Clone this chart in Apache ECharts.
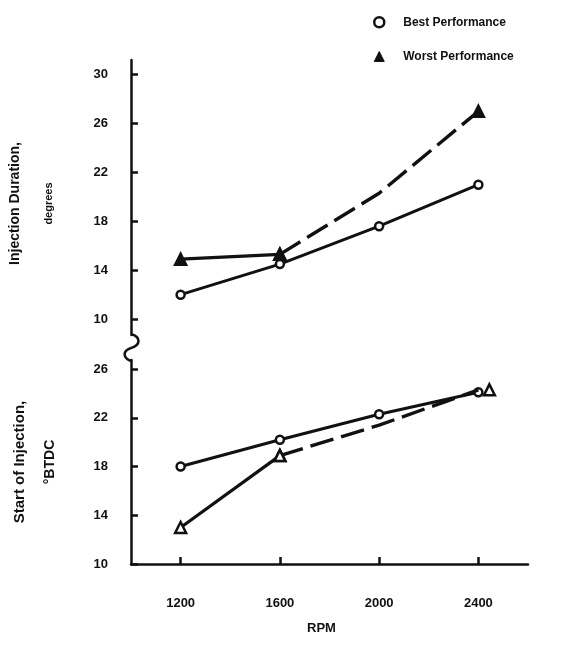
<!DOCTYPE html>
<html><head><meta charset="utf-8">
<script src="https://cdn.jsdelivr.net/npm/echarts@6/dist/echarts.min.js"></script>
<style>html,body{margin:0;padding:0;background:#fff}#c{width:577px;height:646px}</style>
</head><body><div id="c"></div>
<script>
// ---- data ----
const rpm = [1200, 1600, 2000, 2400];
const rpmTicks = [1200, 1600, 2000, 2400];
const durationTicks = [10, 14, 18, 22, 26, 30];
const startTicks = [10, 14, 18, 22, 26];
const durationBest = [12.0, 14.5, 17.6, 21.0];
const durationWorst = [14.9, 15.3, 20.3, 27.0];
const startBest = [18.0, 20.2, 22.3, 24.1];
const startWorst = [13.0, 18.9, 21.4, 24.3];

const INK = '#111';
const FONT = '"Liberation Sans", Arial, sans-serif';

function pts(ys, from, to) {
  return rpm.slice(from, to).map((x, i) => ({ value: [x, ys[from + i]] }));
}
function hideAt(data, xval) {
  data.forEach(d => { if (d.value[0] === xval) d.symbol = 'none'; });
  return data;
}

const circleStyle = { color: '#fff', borderColor: INK, borderWidth: 2.5 };

function bestSeries(grid, ys) {
  return {
    name: 'Best Performance', type: 'line', xAxisIndex: grid, yAxisIndex: grid,
    data: pts(ys, 0, 4), symbol: 'circle', symbolSize: 8, showAllSymbol: true,
    lineStyle: { color: INK, width: 3 }, itemStyle: circleStyle, z: 3, animation: false
  };
}
function worstSeries(grid, ys, offsetLast, filled) {
  const triStyle = { color: filled ? INK : '#fff', borderColor: INK, borderWidth: 2.5 };
  const solid = pts(ys, 0, 2);
  const dashed = hideAt(pts(ys, 1, 4), 2000);
  if (offsetLast) dashed[dashed.length - 1].symbolOffset = [11, 0];
  return [
    { name: 'Worst Performance', type: 'line', xAxisIndex: grid, yAxisIndex: grid,
      data: solid, symbol: 'triangle', symbolSize: 11,
      lineStyle: { color: INK, width: 3.2 }, itemStyle: triStyle, z: 4, animation: false },
    { name: 'Worst Performance', type: 'line', xAxisIndex: grid, yAxisIndex: grid,
      data: dashed, symbol: 'triangle', symbolSize: 11,
      lineStyle: { color: INK, width: 3.4, type: [24, 8] }, itemStyle: triStyle, z: 4, animation: false }
  ];
}

const axisLine = { show: true, onZero: false, lineStyle: { color: INK, width: 2.5 } };
const labelStyle = { color: INK, fontFamily: FONT, fontWeight: 'bold', fontSize: 13, formatter: v => String(v) };

const option = {
  backgroundColor: '#fff',
  animation: false,
  legend: {
    orient: 'vertical', left: 368, top: 11, itemGap: 22, itemWidth: 10, itemHeight: 10,
    selectedMode: false,
    textStyle: { color: INK, fontFamily: FONT, fontWeight: 'bold', fontSize: 12, padding: [0, 0, 0, 14] },
    data: [
      { name: 'Best Performance', icon: 'circle', itemStyle: { color: '#fff', borderColor: INK, borderWidth: 2.5 } },
      { name: 'Worst Performance', icon: 'triangle', itemStyle: { color: INK, borderColor: INK, borderWidth: 1 } }
    ]
  },
  grid: [
    { left: 131, right: 49, top: 60, height: 275 },
    { left: 131, right: 49, top: 360, height: 204 }
  ],
  xAxis: [
    { type: 'value', gridIndex: 0, min: 1000, max: 2600, show: false },
    { type: 'value', gridIndex: 1, min: 1000, max: 2600,
      axisLine: axisLine, splitLine: { show: false },
      axisTick: { show: true, inside: true, length: 7, customValues: rpmTicks, lineStyle: { color: INK, width: 2.5 } },
      axisLabel: Object.assign({ customValues: rpmTicks, margin: 33 }, labelStyle),
      name: 'RPM', nameLocation: 'middle', nameGap: 58,
      nameTextStyle: { color: INK, fontFamily: FONT, fontWeight: 'bold', fontSize: 13, padding: [0, 16, 0, 0] } }
  ],
  yAxis: [
    { type: 'value', gridIndex: 0, min: 8.7, max: 31.2,
      axisLine: axisLine, splitLine: { show: false },
      axisTick: { show: true, inside: true, length: 7, customValues: durationTicks, lineStyle: { color: INK, width: 2.5 } },
      axisLabel: Object.assign({ customValues: durationTicks, margin: 23 }, labelStyle),
      name: '{a|Injection Duration,}\n{b|degrees}', nameLocation: 'middle', nameGap: 66,
      nameTextStyle: { color: INK, fontFamily: FONT, padding: [0, 12, 0, 0], rich: {
        a: { fontSize: 14, lineHeight: 33, color: INK, fontFamily: FONT, fontWeight: 'bold' },
        b: { fontSize: 11, lineHeight: 33, color: INK, fontFamily: FONT, fontWeight: 'bold' } } } },
    { type: 'value', gridIndex: 1, min: 10, max: 26.75,
      axisLine: axisLine, splitLine: { show: false },
      axisTick: { show: true, inside: true, length: 7, customValues: startTicks, lineStyle: { color: INK, width: 2.5 } },
      axisLabel: Object.assign({ customValues: startTicks, margin: 23 }, labelStyle),
      name: '{a|Start of Injection,}\n{b|°BTDC}', nameLocation: 'middle', nameGap: 66,
      nameTextStyle: { color: INK, fontFamily: FONT, rich: {
        a: { fontSize: 15, lineHeight: 30, color: INK, fontFamily: FONT, fontWeight: 'bold' },
        b: { fontSize: 14, lineHeight: 30, color: INK, fontFamily: FONT, fontWeight: 'bold' } } } }
  ],
  graphic: [
    { type: 'bezierCurve', shape: { x1: 131, y1: 334, cpx1: 141, cpy1: 337, cpx2: 141, cpy2: 345, x2: 131, y2: 348 },
      style: { stroke: INK, lineWidth: 2.5, fill: null } },
    { type: 'bezierCurve', shape: { x1: 131, y1: 348, cpx1: 122, cpy1: 351, cpx2: 123, cpy2: 358, x2: 131, y2: 361 },
      style: { stroke: INK, lineWidth: 2.5, fill: null } }
  ],
  series: [
    bestSeries(0, durationBest),
    ...worstSeries(0, durationWorst, false, true),
    bestSeries(1, startBest),
    ...worstSeries(1, startWorst, true, false)
  ]
};

const chart = echarts.init(document.getElementById('c'));
chart.setOption(option);
</script>
</body></html>
